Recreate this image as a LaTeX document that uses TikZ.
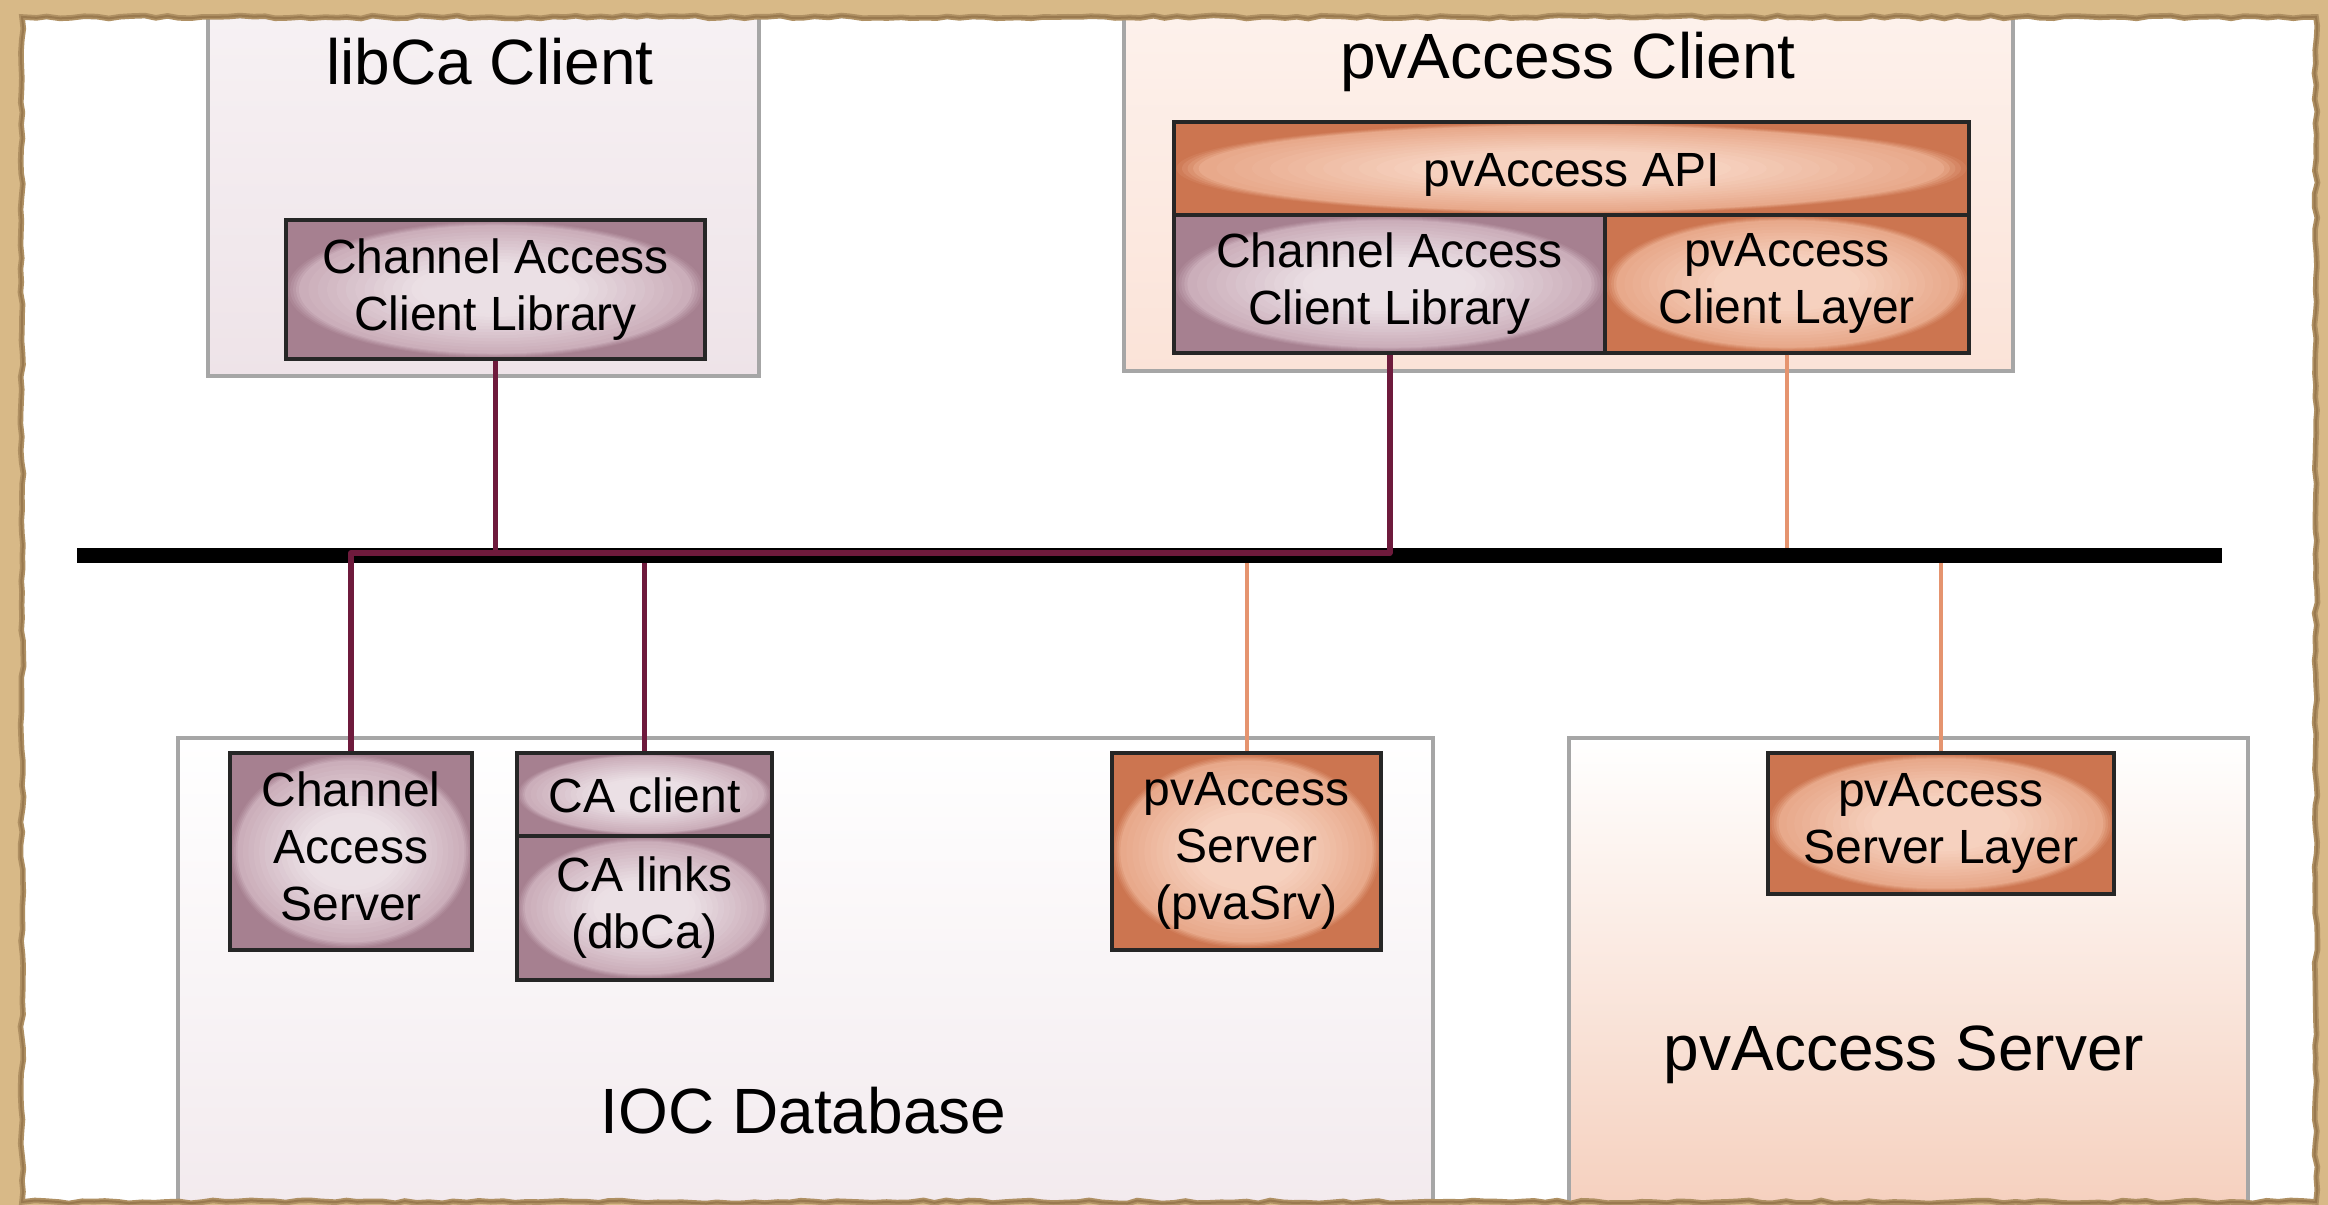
\documentclass[tikz,border=0pt]{standalone}
\usepackage{fontspec}
\setmainfont{Liberation Sans}
\usetikzlibrary{decorations.pathmorphing}

% palette
\definecolor{parch}{HTML}{D8B987}
\definecolor{parchEdge}{HTML}{8E6E45}
\definecolor{frameGray}{HTML}{A6A6A6}
\definecolor{boxLine}{HTML}{262626}
\definecolor{pBox}{HTML}{A68090}
\definecolor{pMid}{HTML}{CBAEBA}
\definecolor{pIn}{HTML}{EBE0E5}
\definecolor{oBox}{HTML}{CC7550}
\definecolor{oMid}{HTML}{E8A98B}
\definecolor{oIn}{HTML}{F6D1BF}
\definecolor{caWire}{HTML}{6E1A3C}
\definecolor{pvWire}{HTML}{E5946F}
\definecolor{bgPin}{HTML}{EEE3E8}
\definecolor{bgPeach}{HTML}{FBE3D8}

\newcommand\boxfont{\fontsize{12}{14.25}\selectfont}
\newcommand\ttlfont{\fontsize{16}{19}\selectfont}

\begin{document}
\begin{tikzpicture}[x=0.25pt,y=-0.25pt,
  container/.style={draw=frameGray, line width=1pt, inner sep=0pt},
  libbg/.style={top color=white!55!bgPin, bottom color=bgPin},
  pvcbg/.style={top color=white!55!bgPeach, bottom color=bgPeach},
  iocbg/.style={top color=white, bottom color=bgPin!80!white},
  pvsbg/.style={top color=white, bottom color=oIn!90!oMid},
  comp/.style={draw=boxLine, line width=0.8pt, inner sep=0pt, font=\boxfont, align=center,
    execute at begin node={\rule{0pt}{0.95em}},
    execute at end node={\rule[-0.22em]{0pt}{0pt}}},
  % component box with a soft light ellipse; arguments: width and height in px
  glow/.style n args={5}{comp, fill=#3, minimum width=#1*0.25pt, minimum height=#2*0.25pt,
    path picture={
      \foreach \r/\m in {0.497/15, 0.490/35, 0.483/55, 0.476/78}
        \fill[#4!\m!#3] (path picture bounding box.center)
          ellipse [x radius=\r*#1, y radius={(\r-0.008)*#2}];
      \foreach \k [evaluate=\k as \pc using {int(min(100,165*\k/20))}] in {0,...,19}
        \fill[#5!\pc!#4] (path picture bounding box.center)
          ellipse [x radius={0.469*#1*(1-\k/21)}, y radius={0.461*#2*(1-\k/21)}];
    }},
  pbox/.style 2 args={glow={#1}{#2}{pBox}{pMid}{pIn}},
  obox/.style 2 args={glow={#1}{#2}{oBox}{oMid}{oIn}},
  ttl/.style={font=\ttlfont, inner sep=0pt},
  bus/.style={line width=3.75pt, black},
  caw/.style={draw=caWire, line width=1.3pt, line join=round},
  pvw/.style={draw=pvWire, line width=1pt},
  rag/.style={decoration={random steps, segment length=3pt, amplitude=0.4pt}}]

\useasboundingbox (0,0) rectangle (2328,1205);
\fill[white] (0,0) rectangle (2328,1205);

\begin{scope}
  \clip (22,17) rectangle (2316,1202);

  % subsystem containers
  \node[container, libbg, minimum width=137.75pt, minimum height=99pt] (libCa) at (483.5,178) {};
  \node[container, pvcbg, minimum width=222.25pt, minimum height=97.75pt] (pvClient) at (1568.5,175.5) {};
  \node[container, iocbg, minimum width=313.75pt, minimum height=125.5pt] (ioc) at (805.5,989) {};
  \node[container, pvsbg, minimum width=169.75pt, minimum height=125.5pt] (pvServer) at (1908.5,989) {};

  \node[ttl, anchor=base] (libCaT) at (490,85) {libCa Client};
  \node[ttl, anchor=base] (pvClientT) at (1568,79) {pvAccess Client};
  \node[ttl, anchor=base] (iocT) at (803.5,1134) {IOC Database};
  \node[ttl, anchor=base] (pvServerT) at (1904,1071) {pvAccess Server};

  % network bus
  \coordinate (busL) at (77,555.5);
  \coordinate (busR) at (2222,555.5);
  \coordinate (busTop) at (0,548);
  \coordinate (busBot) at (0,563);
  \coordinate (caHub) at (1389.5,553);
  \draw[bus] (busL) -- (busR);

  % components
  \node[pbox={419}{139}] (caLib1) at (495.5,289.5) {Channel Access\\Client Library};
  \node[obox={795}{93}] (pvaApi) at (1571.5,168.5) {pvAccess API};
  \node[pbox={431}{138}] (caLib2) at (1389.5,284) {Channel Access\\Client Library};
  \node[obox={364}{138}] (pvaCL) at (1787,284) {pvAccess\\Client Layer};
  \node[pbox={242}{197}] (cas) at (351,851.5) {Channel\\Access\\Server};
  \node[pbox={255}{83}] (caClient) at (644.5,794.5) {CA client};
  \node[pbox={255}{144}] (caLinks) at (644.5,908) {CA links\\(dbCa)};
  \node[obox={269}{197}] (pvaSrv) at (1246.5,851.5) {pvAccess\\Server\\(pvaSrv)};
  \node[obox={346}{141}] (pvaSL) at (1941,823.5) {pvAccess\\Server Layer};

  % Channel Access wiring
  \draw[caw, line width=1.5pt] (cas.north) |- (caHub) -- (caLib2.south);
  \draw[caw] (caLib1.south) -- (caLib1.south |- caHub);
  \draw[caw] (caClient.north) -- (caClient.north |- busBot);

  % pvAccess wiring
  \draw[pvw] (pvaCL.south) -- (pvaCL.south |- busTop);
  \draw[pvw] (pvaSrv.north) -- (pvaSrv.north |- busBot);
  \draw[pvw] (pvaSL.north) -- (pvaSL.north |- busBot);
\end{scope}

% parchment frame with a torn inner edge
\pgfmathsetseed{4}
\fill[parch, even odd rule] (-8,-8) rectangle (2336,1213) decorate[rag]{(22,17) rectangle (2316,1202)};
\pgfmathsetseed{4}
\draw[parchEdge!55!parch, line width=1.4pt] decorate[rag]{(22,17) rectangle (2316,1202)};
\pgfmathsetseed{4}
\draw[parchEdge!85!parch, line width=0.5pt] decorate[rag]{(22,17) rectangle (2316,1202)};
\end{tikzpicture}
\end{document}
